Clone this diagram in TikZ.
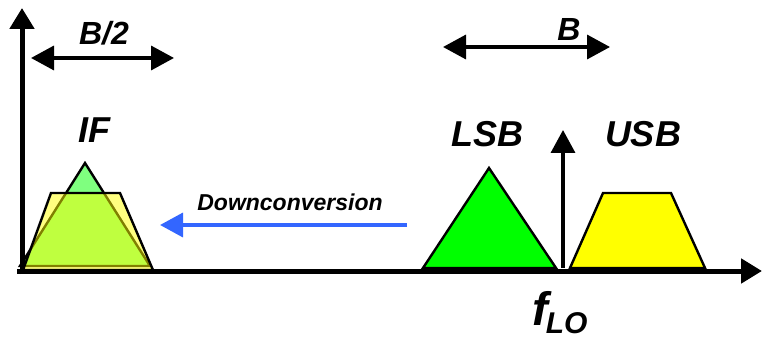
\documentclass[tikz,border=0pt]{standalone}
\usepackage{fontspec}
\setmainfont{Liberation Sans}
\usetikzlibrary{arrows.meta}
\definecolor{lsbgreen}{RGB}{0,255,0}
\definecolor{usbyellow}{RGB}{255,255,0}
\definecolor{dcblue}{RGB}{51,102,255}
\tikzset{
  bandlbl/.style={font=\fontsize{36}{36}\selectfont\bfseries\itshape, inner sep=0pt, anchor=base},
  widthlbl/.style={font=\fontsize{32}{32}\selectfont\bfseries\itshape, inner sep=0pt, anchor=base},
  axisline/.style={line width=5pt, -{Triangle[length=21pt,width=24pt]}},
  spanarrow/.style={line width=3.5pt, {Triangle[length=23pt,width=24pt]}-{Triangle[length=23pt,width=24pt]}},
  band/.style={draw=black, line width=2.4pt},
  convarrow/.style={draw=dcblue, line width=3.5pt, -{Triangle[length=23pt,width=24pt]}},
}
\begin{document}
\begin{tikzpicture}[x=1pt,y=-1pt]
\useasboundingbox (0,0) rectangle (762,339);

% spectrum after downconversion: both sidebands folded onto the IF band
\filldraw[band, fill=lsbgreen, fill opacity=0.5] (20,266) -- (85,163) -- (150,266) -- cycle;
\filldraw[band, fill=usbyellow, fill opacity=0.5] (23,270) -- (51,193) -- (120,193) -- (153,270) -- cycle;

% RF spectrum: lower and upper sideband
\filldraw[band, fill=lsbgreen] (423,268) -- (489,168) -- (556,268) -- cycle;
\filldraw[band, fill=usbyellow] (570,268) -- (603,193) -- (671,193) -- (705,268) -- cycle;

% axes
\coordinate (xstart) at (17,271);
\coordinate (xend) at (762,271);
\coordinate (ystart) at (22,274);
\coordinate (yend) at (22,8);
\draw[axisline] (xstart) -- (xend);
\draw[axisline] (ystart) -- (yend);

% local oscillator line
\coordinate (lobase) at (563,268);
\coordinate (lotop) at (563,130);
\draw[line width=3.5pt, -{Triangle[length=23pt,width=24pt]}] (lobase) -- (lotop);

% bandwidth markers
\coordinate (hbl) at (31,58);
\coordinate (hbr) at (174,58);
\draw[spanarrow] (hbl) -- (hbr);
\coordinate (fbl) at (443,47);
\coordinate (fbr) at (610,47);
\draw[spanarrow] (fbl) -- (fbr);

% downconversion arrow
\coordinate (dcfrom) at (407,225);
\coordinate (dcto) at (160,225);
\draw[convarrow] (dcfrom) -- (dcto);

% labels
\node[widthlbl] (halfb) at (104,45) {B/2};
\node[widthlbl] (fullb) at (569,41) {B};
\node[bandlbl] (iflbl) at (94,143) {IF};
\node[bandlbl] (lsblbl) at (487,147) {LSB};
\node[bandlbl] (usblbl) at (643,147) {USB};
\node[font=\fontsize{23}{23}\selectfont\bfseries\itshape, inner sep=0pt, anchor=base] (dclbl) at (290,210) {Downconversion};
\node[font=\fontsize{47}{47}\selectfont\bfseries\itshape, inner sep=0pt, anchor=base west] (flo) at (532,325)
  {f\kern-2pt\raisebox{-8pt}{\fontsize{30}{30}\selectfont LO}};
\end{tikzpicture}
\end{document}
